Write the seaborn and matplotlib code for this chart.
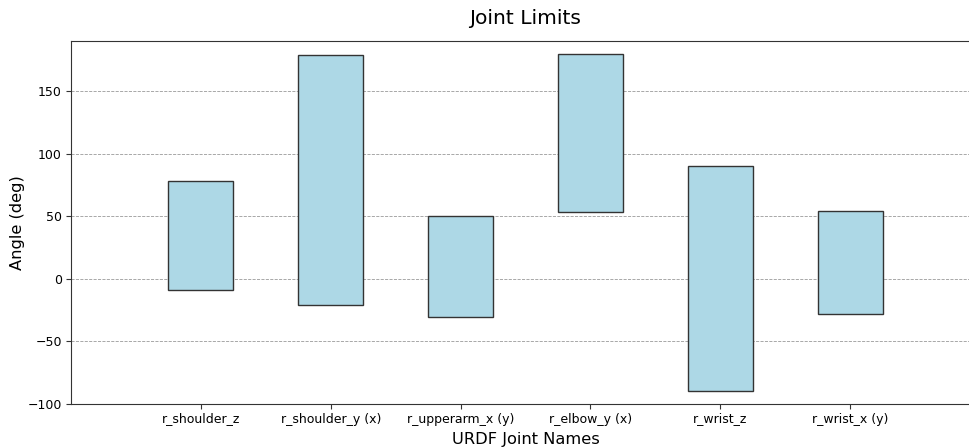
import matplotlib
matplotlib.use("Agg")
import matplotlib.pyplot as plt
import seaborn as sns
import pandas as pd
import numpy as np

joints = ["r_shoulder_z", "r_shoulder_y (x)", "r_upperarm_x (y)", "r_elbow_y (x)", "r_wrist_z", "r_wrist_x (y)"]
lower = [-9, -21, -31, 53, -90, -28]
upper = [78, 179, 50, 180, 90, 54]

df = pd.DataFrame({"joint": joints, "lower": lower, "upper": upper})
df["range"] = df["upper"] - df["lower"]

sns.set_style("ticks")
plt.rcParams['font.family'] = ['DejaVu Sans']
plt.rcParams['text.color'] = 'black'
plt.rcParams['axes.labelcolor'] = 'black'

fig = plt.figure(figsize=(9.7, 4.48), dpi=100)
ax = fig.add_axes([71/970, 1 - 403.5/448, (980-71)/970, (403.5-41)/448])

sns.barplot(data=df, x="joint", y="range", bottom=df["lower"], color="#ADD8E6",
            saturation=1, width=0.5, edgecolor="#333333", linewidth=1, ax=ax, zorder=3)

ax.set_xlim(-1, 6)
ax.set_ylim(-100, 190)
ax.set_yticks([-100, -50, 0, 50, 100, 150])
ax.yaxis.grid(True, linestyle="--", color="gray", linewidth=0.6, alpha=0.8, zorder=0)
ax.set_axisbelow(True)
for s in ax.spines.values():
    s.set_color("#333333")
    s.set_linewidth(0.8)
ax.tick_params(labelsize=9, length=3.5, pad=3, colors="#333333", labelcolor="black")
ax.set_xlabel("URDF Joint Names", fontsize=11.7, color="black", labelpad=5)
ax.set_ylabel("Angle (deg)", fontsize=11.7, color="black", labelpad=2)
ax.set_title("Joint Limits", fontsize=14.6, pad=12, color="black")

fig.savefig("out.png", dpi=100)
